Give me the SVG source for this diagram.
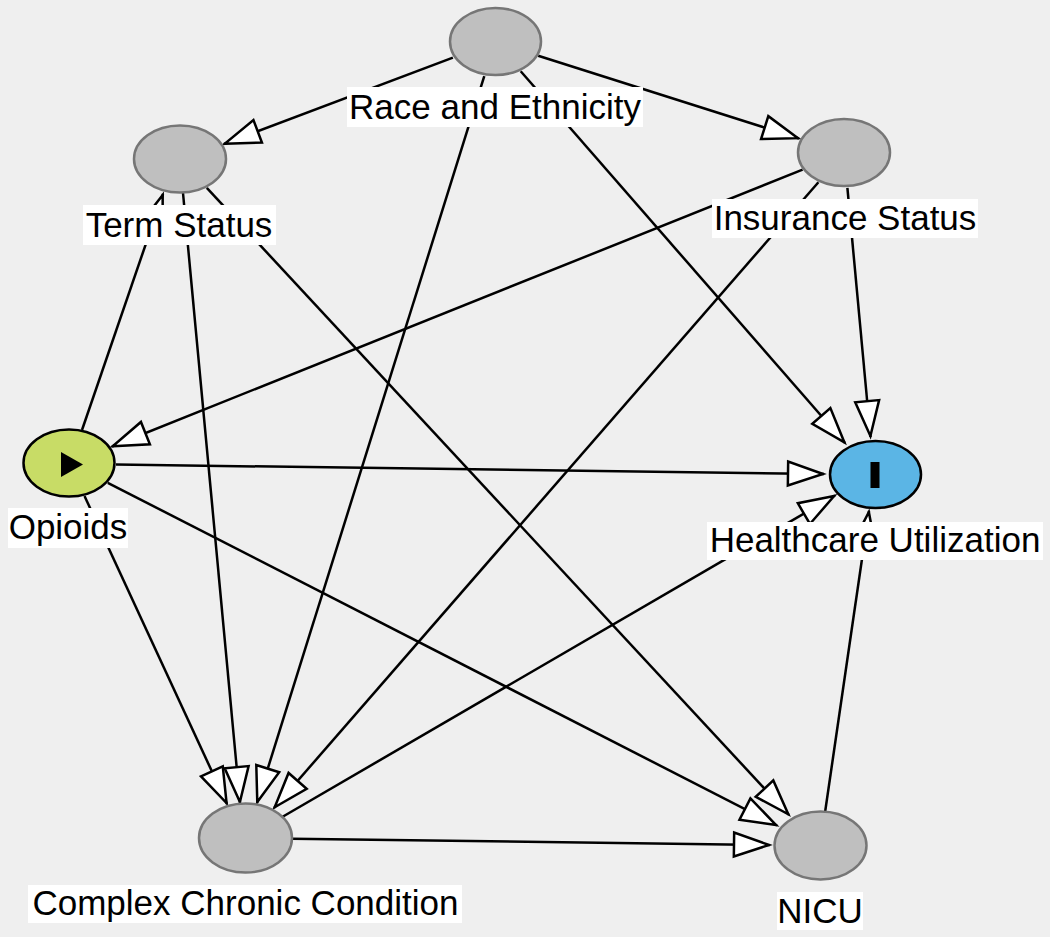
<svg xmlns="http://www.w3.org/2000/svg" width="1050" height="937" viewBox="0 0 1050 937">
<style>
.bg{fill:#efefef}
.e{stroke:#000;stroke-width:2.5;fill:none;marker-end:url(#ah)}
.n{fill:#bfbfbf;stroke:#767676;stroke-width:2.5}
.exp{fill:#c8dc66;stroke:#000;stroke-width:2.5}
.out{fill:#5bb5e5;stroke:#000;stroke-width:2.5}
.lb{fill:#fff}
.t{font-family:"Liberation Sans",Arial,sans-serif;font-size:35px;fill:#000;text-anchor:middle}
</style>
<defs>
<marker id="ah" markerUnits="userSpaceOnUse" viewBox="-40 -16 44 32" refX="0" refY="0" markerWidth="44" markerHeight="32" orient="auto" overflow="visible">
<path d="M-1,0 L-36,-12 L-36,12 Z" fill="#fff" stroke="#000" stroke-width="2.5" stroke-linejoin="miter"/>
</marker>
</defs>
<rect class="bg" x="0" y="0" width="1050" height="937"/>
<g id="edges">
<line class="e" x1="452.9" y1="57.6" x2="224" y2="144"/>
<line class="e" x1="538.2" y1="55.7" x2="799" y2="138.5"/>
<line class="e" x1="484.3" y1="76.1" x2="257" y2="803"/>
<line class="e" x1="520.7" y1="71.3" x2="845" y2="443"/>
<line class="e" x1="82" y1="430" x2="163" y2="194"/>
<line class="e" x1="183" y1="193" x2="240" y2="803"/>
<line class="e" x1="206.8" y1="187.8" x2="789" y2="815"/>
<line class="e" x1="802.6" y1="169.6" x2="112" y2="446.5"/>
<line class="e" x1="818.4" y1="182.3" x2="274" y2="808"/>
<line class="e" x1="847.4" y1="187.9" x2="870.5" y2="437"/>
<line class="e" x1="116" y1="464.5" x2="824" y2="474"/>
<line class="e" x1="84.5" y1="496" x2="227" y2="804"/>
<line class="e" x1="107.8" y1="482.8" x2="777" y2="825.5"/>
<line class="e" x1="282.2" y1="817" x2="835" y2="495.5"/>
<line class="e" x1="292" y1="838.7" x2="770" y2="845"/>
<line class="e" x1="825.2" y1="811.2" x2="869" y2="511"/>
</g>
<g id="node-race">
<ellipse class="n" cx="495.5" cy="41.5" rx="45.5" ry="33.5"/>
<rect class="lb" x="347" y="87" width="296" height="40"/>
<text class="t" x="495" y="119">Race and Ethnicity</text>
</g>
<g id="node-term">
<ellipse class="n" cx="180" cy="159" rx="46" ry="33.5"/>
<rect class="lb" x="83" y="205" width="193" height="40"/>
<text class="t" x="179" y="237">Term Status</text>
</g>
<g id="node-insurance">
<ellipse class="n" cx="844" cy="152.5" rx="46" ry="33.5"/>
<rect class="lb" x="712" y="199" width="266" height="39"/>
<text class="t" x="845" y="230">Insurance Status</text>
</g>
<g id="node-opioids">
<ellipse class="exp" cx="69" cy="463" rx="45.5" ry="33.5"/>
<path d="M61,452 L83,464.5 L61,477 Z" fill="#000"/>
<rect class="lb" x="8" y="508" width="120" height="40"/>
<text class="t" x="68" y="539">Opioids</text>
</g>
<g id="node-healthcare">
<ellipse class="out" cx="875.5" cy="474.5" rx="45.5" ry="33.5"/>
<rect x="870.5" y="462" width="9" height="26" fill="#000"/>
<rect class="lb" x="707" y="522" width="336" height="38"/>
<text class="t" x="875" y="552">Healthcare Utilization</text>
</g>
<g id="node-ccc">
<ellipse class="n" cx="245.5" cy="838" rx="46.5" ry="34.5"/>
<rect class="lb" x="28" y="885" width="434" height="38"/>
<text class="t" x="245.5" y="915">Complex Chronic Condition</text>
</g>
<g id="node-nicu">
<ellipse class="n" cx="820.5" cy="845.5" rx="46" ry="34"/>
<rect class="lb" x="777" y="892" width="86" height="38"/>
<text class="t" x="820" y="923">NICU</text>
</g>
</svg>
